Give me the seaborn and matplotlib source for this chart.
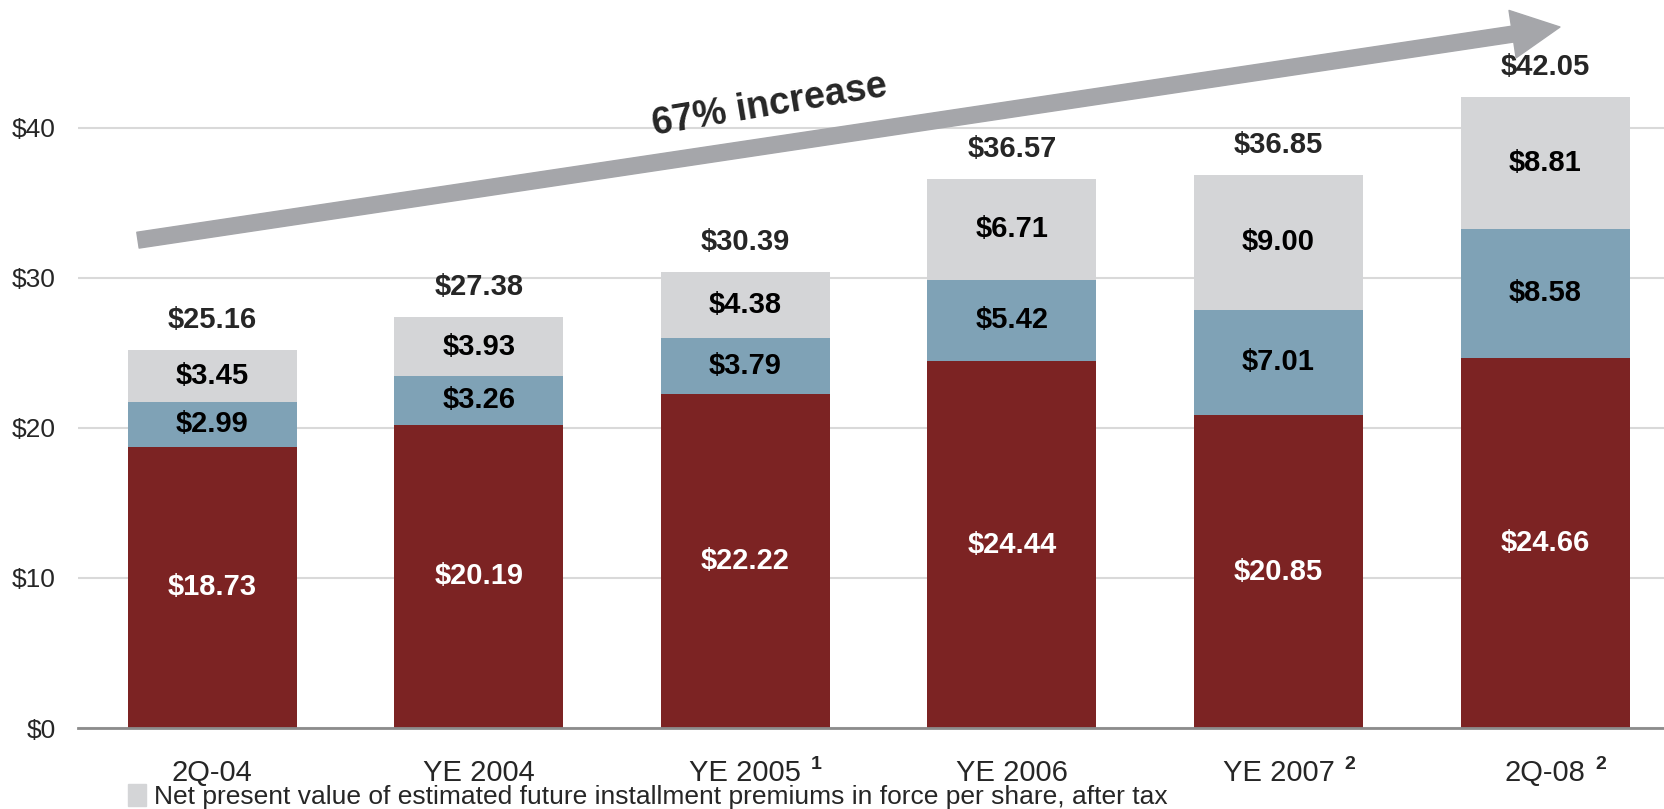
# Import libraries
import matplotlib
matplotlib.use("Agg")
import matplotlib.pyplot as plt
import matplotlib.patches as mpatches
import pandas as pd
import seaborn as sns

# Define data
categories = ["2Q-04", "YE 2004", "YE 2005", "YE 2006", "YE 2007", "2Q-08"]
footnotes = ["", "", "1", "", "2", "2"]
red_vals = [18.73, 20.19, 22.22, 24.44, 20.85, 24.66]
blue_vals = [2.99, 3.26, 3.79, 5.42, 7.01, 8.58]
gray_vals = [3.45, 3.93, 4.38, 6.71, 9.00, 8.81]
totals = [25.16, 27.38, 30.39, 36.57, 36.85, 42.05]
y_ticks = [0, 10, 20, 30, 40]
legend_label = "Net present value of estimated future installment premiums in force per share, after tax"
arrow_label = "67% increase"

RED = "#7C2323"
BLUE = "#7FA2B6"
GRAY = "#D4D5D7"
ARROW = "#A5A6AA"

df = pd.DataFrame({"cat": categories, "red": red_vals, "blue": blue_vals, "gray": gray_vals})
df["red_blue"] = df["red"] + df["blue"]
df["all"] = df["red_blue"] + df["gray"]

sns.set_style("white")
plt.rcParams["font.family"] = ["Liberation Sans", "DejaVu Sans"]

fig = plt.figure(figsize=(16.65, 8.09), dpi=100)
ax = fig.add_axes([78 / 1665, 81 / 809, 1 - 78 / 1665, 728 / 809])

# Stacked bars drawn as cumulative layers
for col, c in [("all", GRAY), ("red_blue", BLUE), ("red", RED)]:
    sns.barplot(data=df, x="cat", y=col, color=c, saturation=1, width=0.634,
                linewidth=0, ax=ax, order=categories)

ax.set_xlim(-0.503, 5.45)
ax.set_ylim(0, 48.5)
ax.set_yticks(y_ticks)
ax.set_yticklabels([f"${v}" for v in y_ticks], fontsize=19)
ax.set_xlabel("")
ax.set_ylabel("")

ax.set_xticks(range(len(categories)))
ax.set_xticklabels(categories, fontsize=21)
ax.tick_params(axis="x", length=0, pad=22)
ax.tick_params(axis="y", length=0, pad=16)

ax.yaxis.grid(True, color="#D9D9D9", lw=1.5)
ax.set_axisbelow(True)
for s in ["top", "right", "left"]:
    ax.spines[s].set_visible(False)
ax.spines["bottom"].set_color("#8C8C8C")
ax.spines["bottom"].set_linewidth(2)

# Footnote superscripts next to category labels
for lab, f in zip(ax.get_xticklabels(), footnotes):
    if f:
        ax.annotate(f, xy=(1, 1), xycoords=lab, xytext=(7, 2), textcoords="offset points",
                    ha="left", va="top", fontsize=14, fontweight="bold")

# Value labels
for i in range(len(categories)):
    r, b, g = red_vals[i], blue_vals[i], gray_vals[i]
    ax.text(i, r / 2, f"${r:.2f}", ha="center", va="center", fontsize=21, fontweight="bold", color="white")
    ax.text(i, r + b / 2, f"${b:.2f}", ha="center", va="center", fontsize=21, fontweight="bold", color="black")
    ax.text(i, r + b + g / 2, f"${g:.2f}", ha="center", va="center", fontsize=21, fontweight="bold", color="black")
    ax.text(i, totals[i] + 2.0, f"${totals[i]:.2f}", ha="center", va="center", fontsize=21, fontweight="bold")

# Growth arrow
ax.annotate("", xy=(5.056, 46.7), xytext=(-0.278, 32.5),
            arrowprops=dict(arrowstyle="simple,head_length=1.5,head_width=1.5,tail_width=0.5",
                            mutation_scale=23, color=ARROW, shrinkA=0, shrinkB=0))
ax.text(2.09, 41.5, arrow_label, ha="center", va="center", fontsize=27, fontweight="bold", rotation=9.5)

# Legend (cut at bottom of slide)
handle = mpatches.Patch(color=GRAY, label=legend_label)
fig.legend(handles=[handle], loc="upper left", bbox_to_anchor=(128 / 1665, 25 / 809),
           frameon=False, fontsize=19, borderpad=0, handlelength=0.7, handleheight=0.9,
           handletextpad=0.3, borderaxespad=0)

fig.savefig("out.png", dpi=100)
